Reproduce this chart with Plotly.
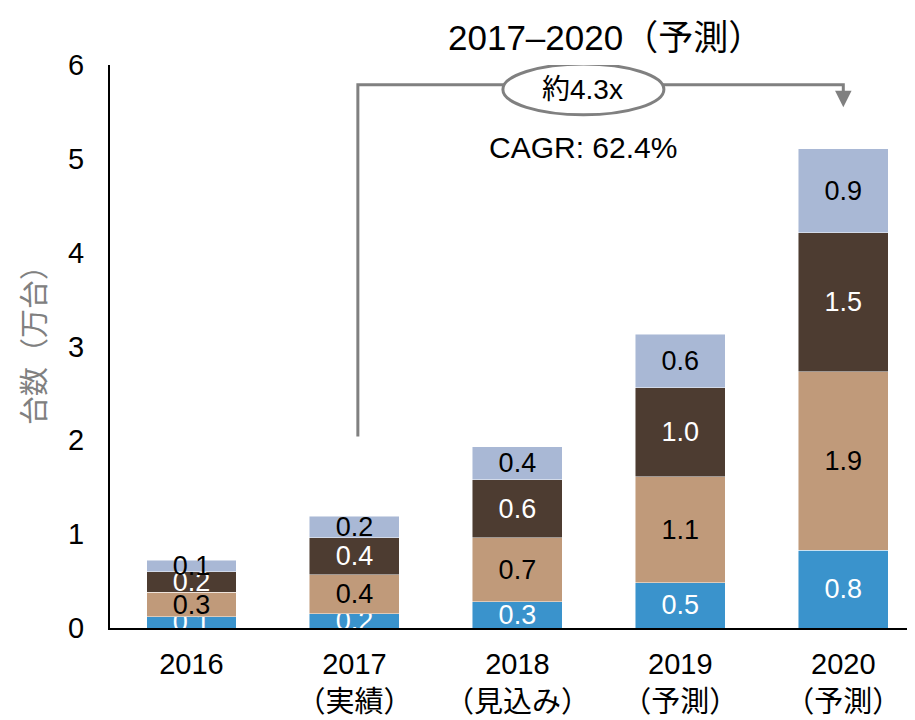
import plotly.graph_objects as go

categories = ["2016", "2017<br>（実績）", "2018<br>（見込み）", "2019<br>（予測）", "2020<br>（予測）"]
seg1 = [0.12, 0.15, 0.28, 0.48, 0.83]   # blue (bottom)
seg2 = [0.26, 0.42, 0.68, 1.13, 1.90]   # tan
seg3 = [0.22, 0.39, 0.62, 0.95, 1.48]   # dark brown
seg4 = [0.12, 0.23, 0.35, 0.57, 0.90]   # light blue-gray (top)
lab1 = ["0.1", "0.2", "0.3", "0.5", "0.8"]
lab2 = ["0.3", "0.4", "0.7", "1.1", "1.9"]
lab3 = ["0.2", "0.4", "0.6", "1.0", "1.5"]
lab4 = ["0.1", "0.2", "0.4", "0.6", "0.9"]

FONT = "Liberation Sans, Arial, Noto Sans CJK JP, sans-serif"
LSZ = 27

series = [
    (seg1, lab1, "#3a93cc", "white"),
    (seg2, lab2, "#c09a7a", "black"),
    (seg3, lab3, "#4d3c31", "white"),
    (seg4, lab4, "#a9b8d5", "black"),
]

fig = go.Figure()
for vals, labs, col, tcol in series:
    fig.add_trace(go.Bar(
        x=categories, y=vals, text=labs, textposition="inside",
        insidetextanchor="middle", constraintext="none",
        textfont=dict(family=FONT, size=LSZ, color=tcol),
        marker=dict(color=col, line=dict(color="rgba(255,255,255,0.6)", width=0.8)),
        width=0.552, showlegend=False, hoverinfo="skip",
    ))

GRAY = "#808080"
# bracket
fig.add_shape(type="path", xref="x", yref="y",
              path="M 1.021,2.04 L 1.021,5.79 L 4.0,5.79 L 4.0,5.66",
              line=dict(color=GRAY, width=3))
fig.add_annotation(x=4.0, y=5.55, ax=4.0, ay=5.68, xref="x", yref="y", axref="x", ayref="y",
                   showarrow=True, arrowhead=2, arrowsize=1.1, arrowwidth=3, arrowcolor=GRAY, text="")
fig.add_shape(type="circle", xref="x", yref="y", x0=1.911, x1=2.899, y0=5.47, y1=6.01,
              line=dict(color=GRAY, width=3), fillcolor="white")
fig.add_annotation(x=2.402, y=5.74, xref="x", yref="y", text="約4.3x", showarrow=False,
                   font=dict(family=FONT, size=28, color="black"))
fig.add_annotation(x=2.402, y=5.126, xref="x", yref="y", text="CAGR: 62.4%", showarrow=False,
                   font=dict(family=FONT, size=30, color="black"))
fig.add_annotation(x=0.616, y=1.048, xref="paper", yref="paper",
                   xanchor="center", yanchor="middle",
                   text="2017–2020（予測）", showarrow=False,
                   font=dict(family=FONT, size=35, color="black"))
fig.add_annotation(x=-0.0932, y=0.515, xref="paper", yref="paper",
                   xanchor="center", yanchor="middle",
                   text="台数（万台）", textangle=-90, showarrow=False,
                   font=dict(family=FONT, size=29, color="#808080"))

fig.update_layout(
    barmode="stack",
    width=907, height=712,
    margin=dict(l=102, r=0, t=57, b=92),
    plot_bgcolor="white", paper_bgcolor="white",
    font=dict(family=FONT, size=29, color="black"),
    uniformtext=dict(minsize=LSZ, mode="show"),
)
fig.update_xaxes(range=[-0.5, 4.44], showline=True, linecolor="black", linewidth=2,
                 ticks="outside", ticklen=9, tickcolor="rgba(0,0,0,0)",
                 tickfont=dict(size=29), showgrid=False, fixedrange=True)
fig.update_yaxes(range=[0, 6], dtick=1, showline=True, linecolor="black", linewidth=2,
                 ticks="outside", ticklen=18, tickcolor="rgba(0,0,0,0)",
                 tickfont=dict(size=29), showgrid=False, zeroline=False, fixedrange=True)

fig.write_html("out.html")
